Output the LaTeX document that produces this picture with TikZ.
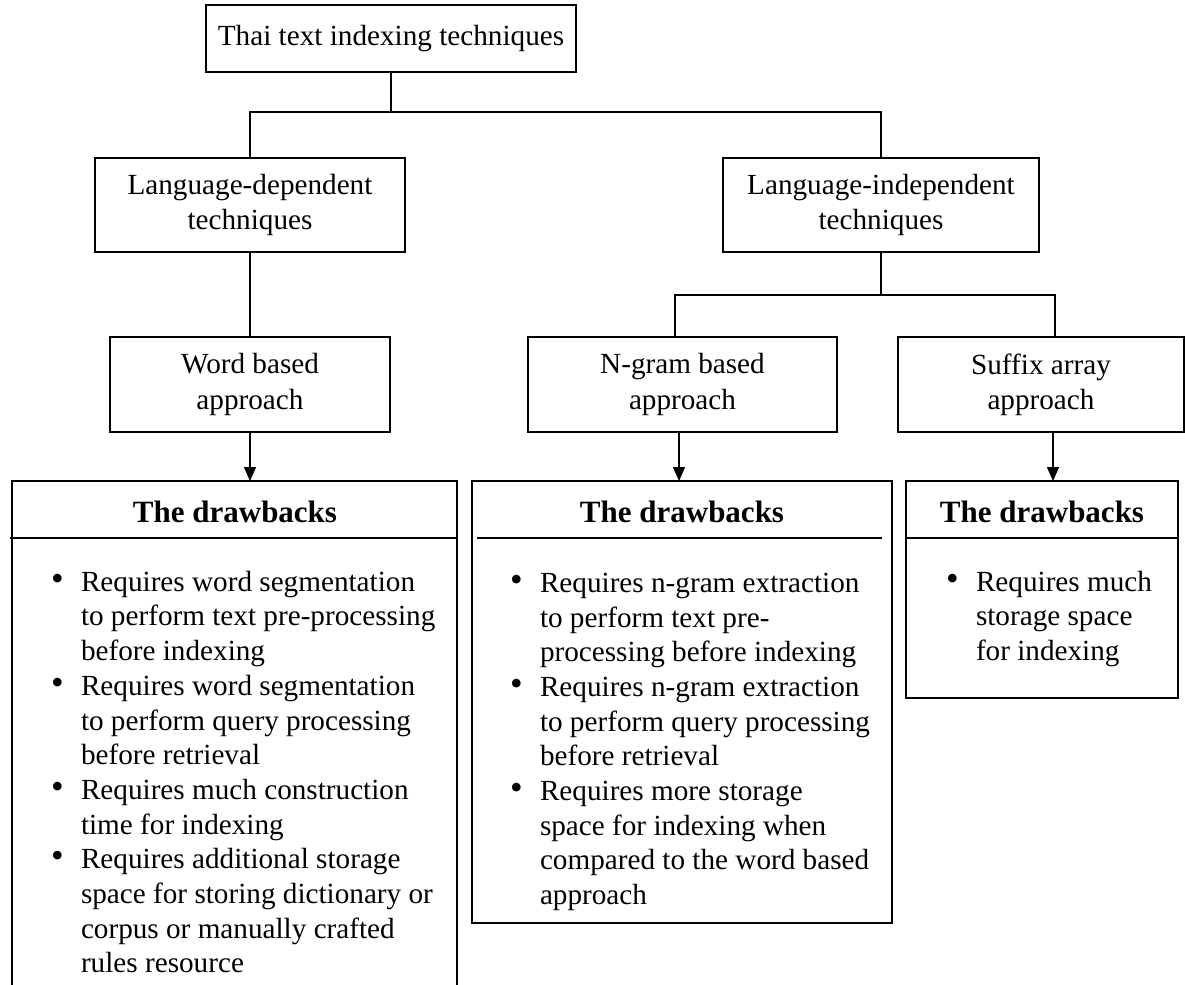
\documentclass[tikz,border=0pt]{standalone}
\usepackage{fontspec}
\setmainfont{Liberation Serif}
\usetikzlibrary{arrows.meta}
\newcommand{\itm}{\makebox[15pt][l]{\raisebox{0.5pt}{\fontsize{18}{18}\selectfont\textbullet}}}
\newcommand{\ind}{\hspace*{15pt}}
\begin{document}
\begin{tikzpicture}[x=0.5pt,y=-0.5pt,
  every node/.style={inner sep=0pt, outer sep=0pt},
  bx/.style={draw, line width=0.8pt, align=center, font=\fontsize{14.6}{17.6}\selectfont},
  ln/.style={line width=0.7pt},
  arr/.style={line width=0.7pt, -{Triangle[length=7pt,width=6pt]}},
  hd/.style={font=\fontsize{15.5}{18}\selectfont\bfseries},
  lst/.style={align=left, anchor=north west, font=\fontsize{14.6}{17.35}\selectfont}]
\useasboundingbox (0,0) rectangle (1185,985);
% top
\node[bx, minimum width=185pt, minimum height=33.5pt] (top) at (391,38.5) {Thai text indexing techniques};
\coordinate (j1) at (391,112);
% language boxes
\node[bx, minimum width=155pt, minimum height=47pt] (ld) at (250,205) {Language-dependent\\ techniques};
\node[bx, minimum width=158pt, minimum height=47pt] (li) at (881,205) {Language-independent\\ techniques};
\draw[ln] (top.south) -- (j1);
\draw[ln] (ld.north) |- (j1) -| (li.north);
% approach boxes
\node[bx, minimum width=140pt, minimum height=47.5pt] (wb) at (250,384.5) {Word based\\ approach};
\node[bx, minimum width=154.5pt, minimum height=47.5pt] (ng) at (682.5,384.5) {N-gram based\\ approach};
\node[bx, minimum width=143pt, minimum height=47.5pt] (sa) at (1041,384.5) {Suffix array\\ approach};
\coordinate (j2) at (881,295);
\coordinate (ngt) at (675,337);
\coordinate (sat) at (1055,337);
\draw[ln] (ld.south) -- (wb.north);
\draw[ln] (li.south) -- (j2);
\draw[ln] (ngt) |- (j2) -| (sat);
% drawbacks boxes
\coordinate (d1nw) at (12,481);
\coordinate (d1ne) at (457,481);
\coordinate (d1sw) at (12,990);
\coordinate (d1se) at (457,990);
\draw[line width=0.8pt] (d1sw) -- (d1nw) -- (d1ne) -- (d1se);
\coordinate (d1l) at (10,538);
\coordinate (d1r) at (457,538);
\draw[line width=0.8pt] (d1l) -- (d1r);
\node[draw, line width=0.8pt, minimum width=210pt, minimum height=221pt] (d2) at (682,702) {};
\coordinate (d2l) at (477,538);
\coordinate (d2r) at (882,538);
\draw[line width=0.8pt] (d2l) -- (d2r);
\node[draw, line width=0.8pt, minimum width=136pt, minimum height=108.5pt] (d3) at (1042,589.5) {};
\draw[line width=0.8pt] (d3.west |- d1l) -- (d3.east |- d1l);
\draw[arr] (wb.south) -- (wb.south |- d1nw);
\draw[arr] (679,432) coordinate (ngs) -- (ngs |- d2.north);
\draw[arr] (1053,432) coordinate (sas) -- (sas |- d3.north);
\node[hd] (h1) at (235,512) {The drawbacks};
\node[hd] (h2) at (682,512) {The drawbacks};
\node[hd] (h3) at (1042,512) {The drawbacks};
\node[lst] (l1) at (51,571) {\itm Requires word segmentation\\
\ind to perform text pre-processing\\
\ind before indexing\\
\itm Requires word segmentation\\
\ind to perform query processing\\
\ind before retrieval\\
\itm Requires much construction\\
\ind time for indexing\\
\itm Requires additional storage\\
\ind space for storing dictionary or\\
\ind corpus or manually crafted\\
\ind rules resource};
\node[lst] (l2) at (510,573) {\itm Requires n-gram extraction\\
\ind to perform text pre-\\
\ind processing before indexing\\
\itm Requires n-gram extraction\\
\ind to perform query processing\\
\ind before retrieval\\
\itm Requires more storage\\
\ind space for indexing when\\
\ind compared to the word based\\
\ind approach};
\node[lst] (l3) at (946,571) {\itm Requires much\\
\ind storage space\\
\ind for indexing};
\end{tikzpicture}
\end{document}
